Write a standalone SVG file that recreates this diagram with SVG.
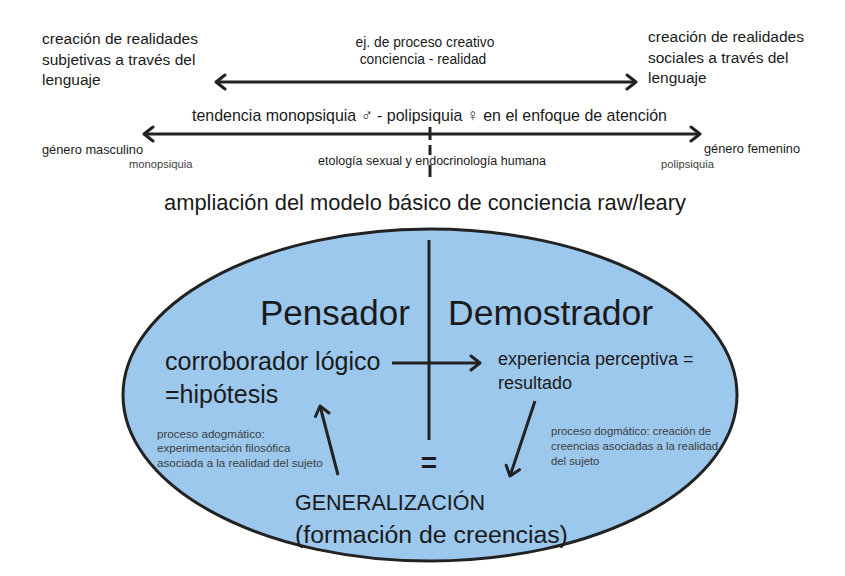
<svg xmlns="http://www.w3.org/2000/svg" width="845" height="576" viewBox="0 0 845 576">
  <style>
    text { font-family: "Liberation Sans", Arial, sans-serif; fill: #1a1a1a; }
    .small { fill: #3d3d3d; }
    .line { stroke: #222; stroke-width: 3; fill: none; }
  </style>
  <defs>
    <marker id="chev" markerUnits="userSpaceOnUse" markerWidth="14" markerHeight="18" refX="11" refY="9" orient="auto-start-reverse" viewBox="0 0 14 18">
      <path d="M2,2 L11,9 L2,16" fill="none" stroke="#222" stroke-width="3" stroke-linecap="round" stroke-linejoin="round"/>
    </marker>
  </defs>
  <rect width="845" height="576" fill="#ffffff"/>

  <g id="header">
    <g id="left-top">
      <text x="42" y="44" font-size="15.5">creación de realidades</text>
      <text x="42" y="65" font-size="15.5">subjetivas a través del</text>
      <text x="42" y="85" font-size="15.5">lenguaje</text>
    </g>
    <g id="right-top">
      <text x="648" y="42" font-size="15.5">creación de realidades</text>
      <text x="648" y="63" font-size="15.5">sociales a través del</text>
      <text x="648" y="83" font-size="15.5">lenguaje</text>
    </g>
    <g id="center-top">
      <text x="425" y="47" font-size="13.8" text-anchor="middle">ej. de proceso creativo</text>
      <text x="423" y="64" font-size="13.8" text-anchor="middle">conciencia - realidad</text>
    </g>
    <g id="tendencia">
      <text x="192" y="121" font-size="17" textLength="475" lengthAdjust="spacingAndGlyphs">tendencia monopsiquia ♂ - polipsiquia ♀ en el enfoque de atención</text>
    </g>
    <g id="scale-labels">
      <text x="42" y="154" font-size="12.8">género masculino</text>
      <text x="129" y="168" font-size="11.2" class="small">monopsiquia</text>
      <text x="432" y="165" font-size="12.5" text-anchor="middle">etología sexual y endocrinología humana</text>
      <text x="704" y="153" font-size="12.8">género femenino</text>
      <text x="661" y="168" font-size="11.2" class="small">polipsiquia</text>
    </g>
    <text id="title" x="425" y="210" font-size="21.9" text-anchor="middle">ampliación del modelo básico de conciencia raw/leary</text>
  </g>

  <g id="model">
    <ellipse id="ellipse" cx="430" cy="395" rx="307" ry="166" fill="#9cc8ee" stroke="#222" stroke-width="3"/>
    <g id="pensador"><text x="260" y="325" font-size="35">Pensador</text></g>
    <g id="demostrador"><text x="448" y="325" font-size="35.5">Demostrador</text></g>
    <g id="corroborador">
      <text x="165" y="370" font-size="25">corroborador lógico</text>
      <text x="165" y="403" font-size="25">=hipótesis</text>
    </g>
    <g id="experiencia">
      <text x="498" y="365" font-size="18">experiencia perceptiva =</text>
      <text x="498" y="389" font-size="18">resultado</text>
    </g>
    <g id="adogmatico">
      <text x="157" y="438" font-size="11.6" class="small">proceso adogmático:</text>
      <text x="157" y="452" font-size="11.6" class="small">experimentación filosófica</text>
      <text x="157" y="467" font-size="11.6" class="small">asociada a la realidad del sujeto</text>
    </g>
    <g id="dogmatico">
      <text x="551" y="435" font-size="11.3" class="small">proceso dogmático: creación de</text>
      <text x="551" y="450" font-size="11.3" class="small">creencias asociadas a la realidad</text>
      <text x="551" y="465" font-size="11.3" class="small">del sujeto</text>
    </g>
    <g id="igual"><text x="429" y="472" font-size="28" font-weight="bold" text-anchor="middle">=</text></g>
    <g id="generalizacion">
      <text x="295" y="510" font-size="21.5">GENERALIZACIÓN</text>
      <text x="295" y="543" font-size="24.8">(formación de creencias)</text>
    </g>
  </g>

  <g id="connectors">
    <line class="line" x1="216" y1="82" x2="636" y2="82" marker-start="url(#chev)" marker-end="url(#chev)"/>
    <line class="line" x1="144" y1="134" x2="700" y2="134" marker-start="url(#chev)" marker-end="url(#chev)"/>
    <line class="line" x1="430" y1="127" x2="430" y2="140"/>
    <line class="line" x1="430" y1="145" x2="430" y2="155"/>
    <line class="line" x1="430" y1="165" x2="430" y2="177"/>
    <line class="line" x1="429" y1="240" x2="429" y2="440" stroke-width="2.6"/>
    <line class="line" x1="392" y1="363" x2="480" y2="363" marker-end="url(#chev)"/>
    <line class="line" x1="338" y1="475" x2="320" y2="406" marker-end="url(#chev)"/>
    <line class="line" x1="535" y1="401" x2="510" y2="476" marker-end="url(#chev)"/>
  </g>
</svg>
